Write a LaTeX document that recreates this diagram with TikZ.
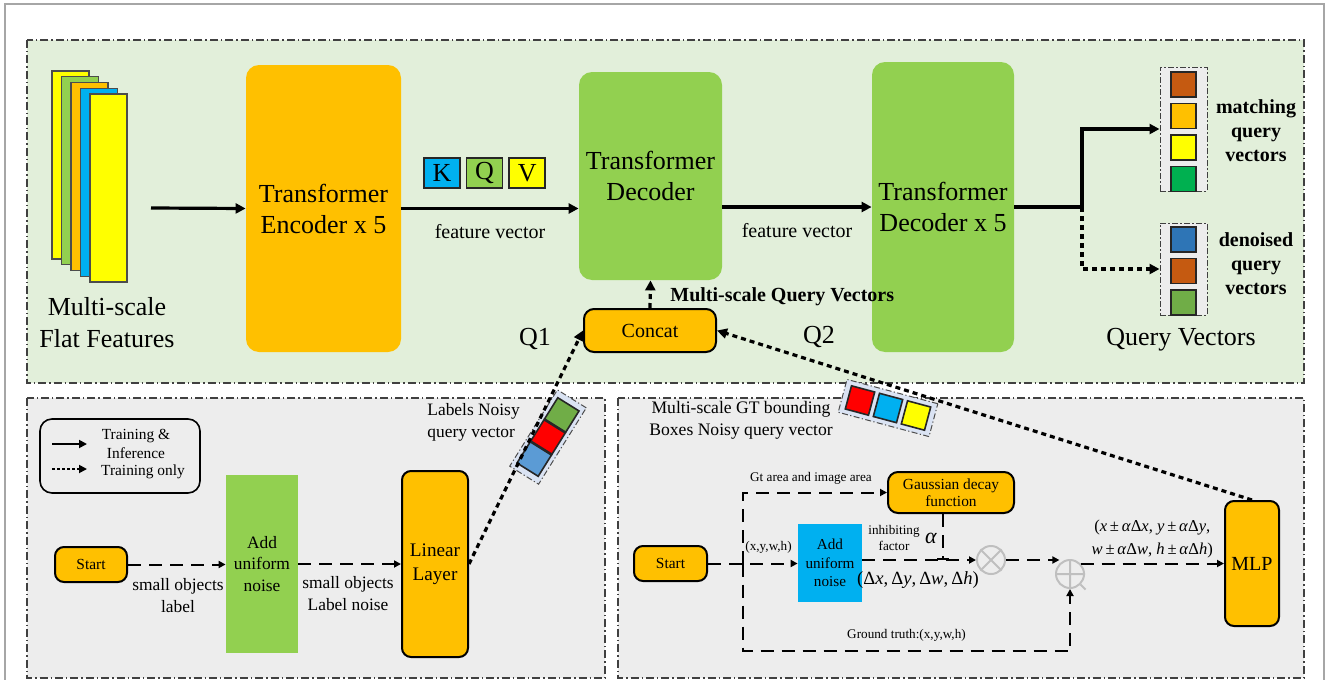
\documentclass[tikz,border=0pt]{standalone}
\usepackage{fontspec}
\setmainfont{Liberation Serif}
\usetikzlibrary{positioning}
\usetikzlibrary{calc}
\usetikzlibrary{arrows.meta}

\definecolor{orng}{HTML}{FFC000}
\definecolor{grn}{HTML}{92D050}
\definecolor{blu}{HTML}{00B0F0}
\definecolor{ylw}{HTML}{FFFF00}
\definecolor{brwn}{HTML}{C55A11}
\definecolor{dkgrn}{HTML}{00B050}
\definecolor{stblu}{HTML}{2E75B6}
\definecolor{olgrn}{HTML}{70AD47}
\definecolor{skblu}{HTML}{5B9BD5}
\definecolor{topbg}{HTML}{E2EFDA}
\definecolor{botbg}{HTML}{EDEDED}
\definecolor{lav}{HTML}{DAE3F3}

\newcommand{\fsbig}{\fontsize{13}{15.5}\selectfont}
\newcommand{\fsmid}{\fontsize{10}{12}\selectfont}
\newcommand{\fslbl}{\fontsize{8.7}{10.8}\selectfont}
\newcommand{\fsleg}{\fontsize{7.7}{9.5}\selectfont}
\newcommand{\fstiny}{\fontsize{6.6}{8}\selectfont}

\begin{document}
\begin{tikzpicture}[x=0.5pt,y=-0.5pt,
	panel/.style={draw=black!75, line width=0.6pt, dash pattern=on 4pt off 1.5pt on 0.7pt off 1.5pt},
	bigbox/.style={rectangle, rounded corners=6.5pt, align=center, font=\fsbig, inner sep=0pt},
	pill/.style={rectangle, rounded corners=4.5pt, draw=black, line width=1pt, fill=orng, align=center, inner sep=0pt},
	sq/.style={rectangle, draw=black!85, line width=0.8pt, minimum size=12.5pt, inner sep=0pt},
	vecframe/.style={rectangle, draw=black!75, fill=botbg, line width=0.5pt, dash pattern=on 3pt off 1.2pt on 0.6pt off 1.2pt, minimum width=23.5pt, inner sep=0pt},
	tiltframe/.style={rectangle, draw=black!70, fill=lav, line width=0.5pt, dash pattern=on 3pt off 1.2pt on 0.6pt off 1.2pt, inner sep=0pt},
	ring/.style={circle, draw=black!25, line width=1pt, minimum size=14pt, inner sep=0pt},
	arr/.style={line width=1.6pt, -{Triangle[length=5pt,width=5pt]}},
	dotarr/.style={line width=1.6pt, dash pattern=on 2.5pt off 2pt, -{Triangle[length=5pt,width=5pt]}},
	dasharr/.style={line width=1pt, dash pattern=on 6.5pt off 4pt, -{Triangle[length=3.5pt,width=3.5pt]}},
	lbl/.style={align=center, inner sep=1pt}]
	\useasboundingbox (0,0) rectangle (1328,680);
	\clip (0,0) rectangle (1328,680);
	\draw[gray!70, line width=0.8pt] (5,4) rectangle (1324,700);
	\draw[panel, fill=topbg] (27,40) rectangle (1304,383);
	\draw[panel, fill=botbg] (27,398) rectangle (605,678);
	\draw[panel, fill=botbg] (618,398) rectangle (1304,678);

	\foreach \c [count=\i] in {ylw,grn,orng,blu,ylw}
		\node[rectangle, draw=black!70, line width=0.6pt, fill=\c, minimum width=18.5pt, minimum height=94pt, inner sep=0pt] (feat\i) at ({70.5+9.5*(\i-1)},{165+5.75*(\i-1)}) {};
	\node[lbl, font=\fontsize{13}{16}\selectfont] (flatlbl) at (107,323) {Multi-scale\\Flat Features};

	\node[bigbox, fill=orng, minimum width=77.5pt, minimum height=143.5pt] (enc) at (323.5,208.5) {Transformer\\Encoder x 5};
	\node[bigbox, fill=grn, minimum width=71.5pt, minimum height=104pt] (dec) at (650.5,176) {Transformer\\Decoder};
	\node[bigbox, fill=grn, minimum width=71pt, minimum height=145pt] (decfive) at (943,207) {Transformer\\Decoder x 5};

	\node[sq, fill=blu, minimum width=18pt, minimum height=15pt, font=\fsbig] (kkey) at (442,173) {K};
	\node[sq, fill=grn, minimum width=18pt, minimum height=15pt, font=\fsbig, right=2.5pt of kkey] (qkey) {Q};
	\node[sq, fill=ylw, minimum width=18pt, minimum height=15pt, font=\fsbig, right=2.5pt of qkey] (vkey) {V};

	\coordinate (featout) at (151,208);
	\draw[arr] (featout) -- (enc.west);
	\draw[arr] (enc.east) -- node[below=4pt, font=\fsmid]{feature vector} (enc.east -| dec.west);
	\draw[arr] (dec.east |- decfive.west) -- node[below=4pt, font=\fsmid]{feature vector} (decfive.west);

	\node[pill, rounded corners=5pt, minimum width=66pt, minimum height=21.5pt, font=\fsmid] (concat) at (650,330.5) {Concat};
	\draw[dotarr] (concat.north) -- (dec.south);
	\node[font=\bfseries\fsmid, anchor=west, inner sep=0pt] (msqlbl) at (670,297) {Multi-scale Query Vectors};
	\node[font=\fsbig] (qone) at (535,339) {Q1};
	\node[font=\fsbig] (qtwo) at (819,337) {Q2};

	\node[vecframe, minimum height=62pt] (match) at (1183.5,129) {};
	\node[sq, fill=brwn, below=2.25pt of match.north] (m1) {};
	\node[sq, fill=orng, below=2.5pt of m1] (m2) {};
	\node[sq, fill=ylw, below=2.5pt of m2] (m3) {};
	\node[sq, fill=dkgrn, below=2.5pt of m3] (m4) {};
	\node[vecframe, minimum height=46pt] (denoise) at (1183.5,269) {};
	\node[sq, fill=stblu, below=1.75pt of denoise.north] (d1) {};
	\node[sq, fill=brwn, below=2.5pt of d1] (d2) {};
	\node[sq, fill=olgrn, below=2.5pt of d2] (d3) {};
	\coordinate (split) at (1082,207);
	\draw[line width=1.6pt] (decfive.east) -- (split);
	\draw[arr] (split) |- (match.west);
	\draw[dotarr] (split) |- (denoise.west);
	\node[lbl, font=\bfseries\fsmid] (matchlbl) at (1256,131) {matching\\query\\vectors};
	\node[lbl, font=\bfseries\fsmid] (denlbl) at (1256,264) {denoised\\query\\vectors};
	\node[font=\fsbig] (qvlbl) at (1181,340) {Query Vectors};

	\node[draw, line width=0.8pt, rounded corners=6pt, minimum width=80pt, minimum height=37pt] (legend) at (120,456) {};
	\coordinate (legsolid) at (52,444);
	\coordinate (legdot) at (52,469);
	\draw[line width=0.9pt, -{Triangle[length=4pt,width=4pt]}] (legsolid) -- ++(35,0);
	\draw[line width=0.9pt, dash pattern=on 1.5pt off 1pt, -{Triangle[length=4pt,width=4pt]}] (legdot) -- ++(35,0);
	\node[lbl, font=\fsleg] (legone) at (136,443.5) {Training \&\\Inference};
	\node[lbl, font=\fsleg] (legtwo) at (143,472) {Training only};

	\node[pill, minimum width=36pt, minimum height=17.5pt, font=\fsleg] (startl) at (91,564.5) {Start};
	\node[rectangle, fill=grn, minimum width=36pt, minimum height=89pt, align=center, font=\fslbl] (noisel) at (262,564) {Add\\uniform\\noise};
	\node[pill, minimum width=33pt, minimum height=93pt, font=\fontsize{9.6}{12}\selectfont] (linear) at (435,564) {Linear\\Layer};
	\draw[dasharr] (startl.east) -- (startl.east -| noisel.west);
	\draw[dasharr] (noisel.east) -- (linear.west);
	\node[lbl, font=\fslbl] (sollbl) at (178,595.5) {small objects\\label};
	\node[lbl, font=\fslbl] (slnlbl) at (348,593.5) {small objects\\Label noise};
	\node[font=\fslbl, align=left, anchor=west, inner sep=0pt] (lnqlbl) at (427,422.5) {Labels Noisy\\query vector};
	\begin{scope}[shift={(548,437)}, rotate=-32, transform shape]
		\node[tiltframe, minimum width=17pt, minimum height=45pt] (lnqframe) at (0,0) {};
		\node[sq, fill=olgrn] (lnq1) at (0,-26) {};
		\node[sq, fill=red] (lnq2) at (0,0) {};
		\node[sq, fill=skblu] (lnq3) at (0,26) {};
	\end{scope}

	\node[lbl, font=\fontsize{8.8}{11}\selectfont] (gtbxlbl) at (741,420) {Multi-scale GT bounding\\Boxes Noisy query vector};
	\begin{scope}[shift={(888,408)}, rotate=-15, transform shape]
		\node[tiltframe, minimum width=47pt, minimum height=17pt] (gtframe) at (0,0) {};
		\node[sq, fill=red, minimum size=12pt] (gtb1) at (-29,0) {};
		\node[sq, fill=blu, minimum size=12pt] (gtb2) at (0,0) {};
		\node[sq, fill=ylw, minimum size=12pt] (gtb3) at (29,0) {};
	\end{scope}

	\node[pill, minimum width=36.5pt, minimum height=17.5pt, font=\fsleg] (startr) at (670.5,563.5) {Start};
	\node[rectangle, fill=blu, minimum width=32pt, minimum height=39pt, align=center, font=\fontsize{7.6}{9.25}\selectfont] (noiser) at (830,563) {Add\\uniform\\noise};
	\node[pill, rounded corners=5pt, minimum width=63pt, minimum height=20.5pt, font=\fontsize{7.7}{8.6}\selectfont] (gauss) at (951,492.5) {Gaussian decay\\function};
	\node[ring] (mult) at (991,560) {};
	\draw[black!25, line width=1pt] (mult.north west) -- (mult.south east) (mult.north east) -- (mult.south west);
	\node[ring] (plus) at (1070,574) {};
	\draw[black!25, line width=1pt] (plus.north) -- (plus.south) (plus.west) -- (plus.east) (plus.south east) -- ++(5,5);
	\node[pill, minimum width=27pt, minimum height=62.5pt, font=\fsmid] (mlp) at (1252,563.5) {MLP};

	\coordinate (fork) at (743,563.5);
	\coordinate (gtlow) at (743,651);
	\draw[dasharr] (startr.east) -- (startr.east -| noiser.west);
	\draw[dasharr] (fork) |- (gauss.west);
	\draw[dasharr] (fork) -- (gtlow) -- node[above=1pt, font=\fstiny]{Ground truth:(x,y,w,h)} (gtlow -| plus.south) -- (plus.south);
	\draw[dasharr] (noiser.east |- mult) -- (mult.west);
	\draw[line width=1pt, dash pattern=on 6.5pt off 4pt, -{Bar[width=6pt]}] ([xshift=-4pt]gauss.south) -- ([xshift=-4pt]gauss.south |- mult);
	\draw[dasharr] (mult.east) -- (mult.east -| plus.north west);
	\draw[dasharr] (plus.north east |- mlp.west) -- node[above=1pt, lbl, font=\fontsize{8.3}{11.5}\selectfont]{(\textit{x}\,±\,\textit{α}Δ\textit{x}, \textit{y}\,±\,\textit{α}Δ\textit{y},\\\textit{w}\,±\,\textit{α}Δ\textit{w}, \textit{h}\,±\,\textit{α}Δ\textit{h})} (mlp.west);
	\node[font=\fstiny] (gtalbl) at (811,478) {Gt area and image area};
	\node[font=\fstiny, anchor=west, inner sep=0pt] (xywhlbl) at (745,547) {(x,y,w,h)};
	\node[lbl, font=\fstiny] (inhlbl) at (894,538) {inhibiting\\factor};
	\node[font=\fontsize{11}{11}\selectfont\itshape] (alphalbl) at (931,538) {α};
	\node[font=\fontsize{9.3}{11}\selectfont] (dlbl) at (918,580) {(Δ\textit{x},\,Δ\textit{y},\,Δ\textit{w},\,Δ\textit{h})};

	\draw[dotarr] (linear.east) -- (concat.west);
	\draw[dotarr] (mlp.north) -- (concat.east);
\end{tikzpicture}
\end{document}
